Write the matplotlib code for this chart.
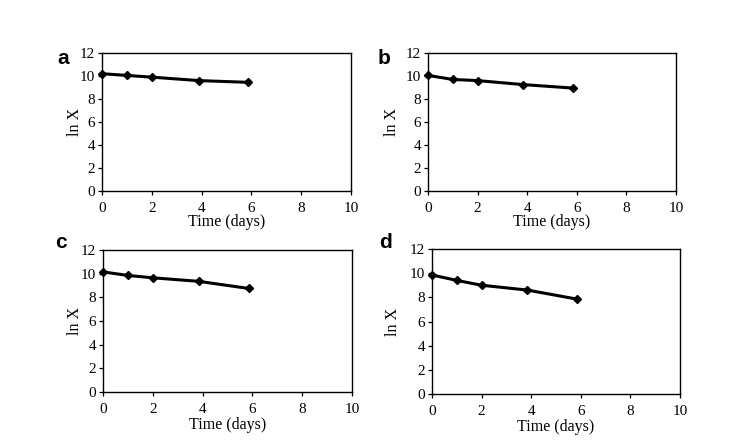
import matplotlib
matplotlib.use("Agg")
import matplotlib.pyplot as plt

time_a = [0, 1, 2, 3.9, 5.85]
lnx_a = [10.2, 10.05, 9.9, 9.6, 9.45]
time_b = [0, 1, 2, 3.85, 5.85]
lnx_b = [10.05, 9.7, 9.6, 9.25, 8.95]
time_c = [0, 1, 2, 3.85, 5.85]
lnx_c = [10.15, 9.85, 9.65, 9.35, 8.75]
time_d = [0, 1, 2, 3.85, 5.85]
lnx_d = [9.85, 9.4, 9.0, 8.6, 7.85]
panel_labels = ["a", "b", "c", "d"]
xticks = [0, 2, 4, 6, 8, 10]
yticks = [0, 2, 4, 6, 8, 10, 12]

W, H = 753, 444
fig = plt.figure(figsize=(W / 100, H / 100), dpi=100)
fig.patch.set_facecolor("white")

# pixel boxes: left, right, top, bottom
boxes = [(102, 351, 53, 191), (428, 676, 53, 191),
         (103, 352, 250, 392), (432, 680, 249, 394)]
letter_pos = [(63, 58), (384, 58), (61, 243), (385, 243)]
ylabel_x = [75, 392, 75, 393]
xlabel_y = [222, 222, 425, 427]
series = [(time_a, lnx_a), (time_b, lnx_b), (time_c, lnx_c), (time_d, lnx_d)]

serif = "Liberation Serif"
for i, ((l, r, t, b), (xs, ys), lab, (lx, ly)) in enumerate(zip(boxes, series, panel_labels, letter_pos)):
    ax = fig.add_axes([l / W, 1 - b / H, (r - l) / W, (b - t) / H])
    ax.plot(xs, ys, color="black", lw=2.2, marker="D", ms=3.8, clip_on=False)
    ax.set_xlim(0, 10)
    ax.set_ylim(0, 12)
    ax.set_xticks(xticks)
    ax.set_yticks(yticks)
    ax.tick_params(direction="out", length=3, width=0.9, labelsize=11)
    ax.tick_params(axis="x", pad=5)
    ax.tick_params(axis="y", pad=2)
    for tl in ax.get_xticklabels() + ax.get_yticklabels():
        tl.set_fontfamily(serif)
    for s in ax.spines.values():
        s.set_linewidth(1.0)
    ax.set_xlabel("Time (days)", fontfamily=serif, fontsize=11.5, va="center")
    ax.xaxis.set_label_coords((l + r) / 2 / W, 1 - xlabel_y[i] / H, transform=fig.transFigure)
    ax.set_ylabel("ln X", fontfamily=serif, fontsize=11.5, va="center")
    ax.yaxis.set_label_coords(ylabel_x[i] / W, 1 - (t + b) / 2 / H, transform=fig.transFigure)
    fig.text(lx / W, 1 - ly / H, lab, fontfamily="Liberation Sans", fontweight="bold",
             fontsize=15, ha="center", va="center")

fig.savefig("out.png", dpi=100)
